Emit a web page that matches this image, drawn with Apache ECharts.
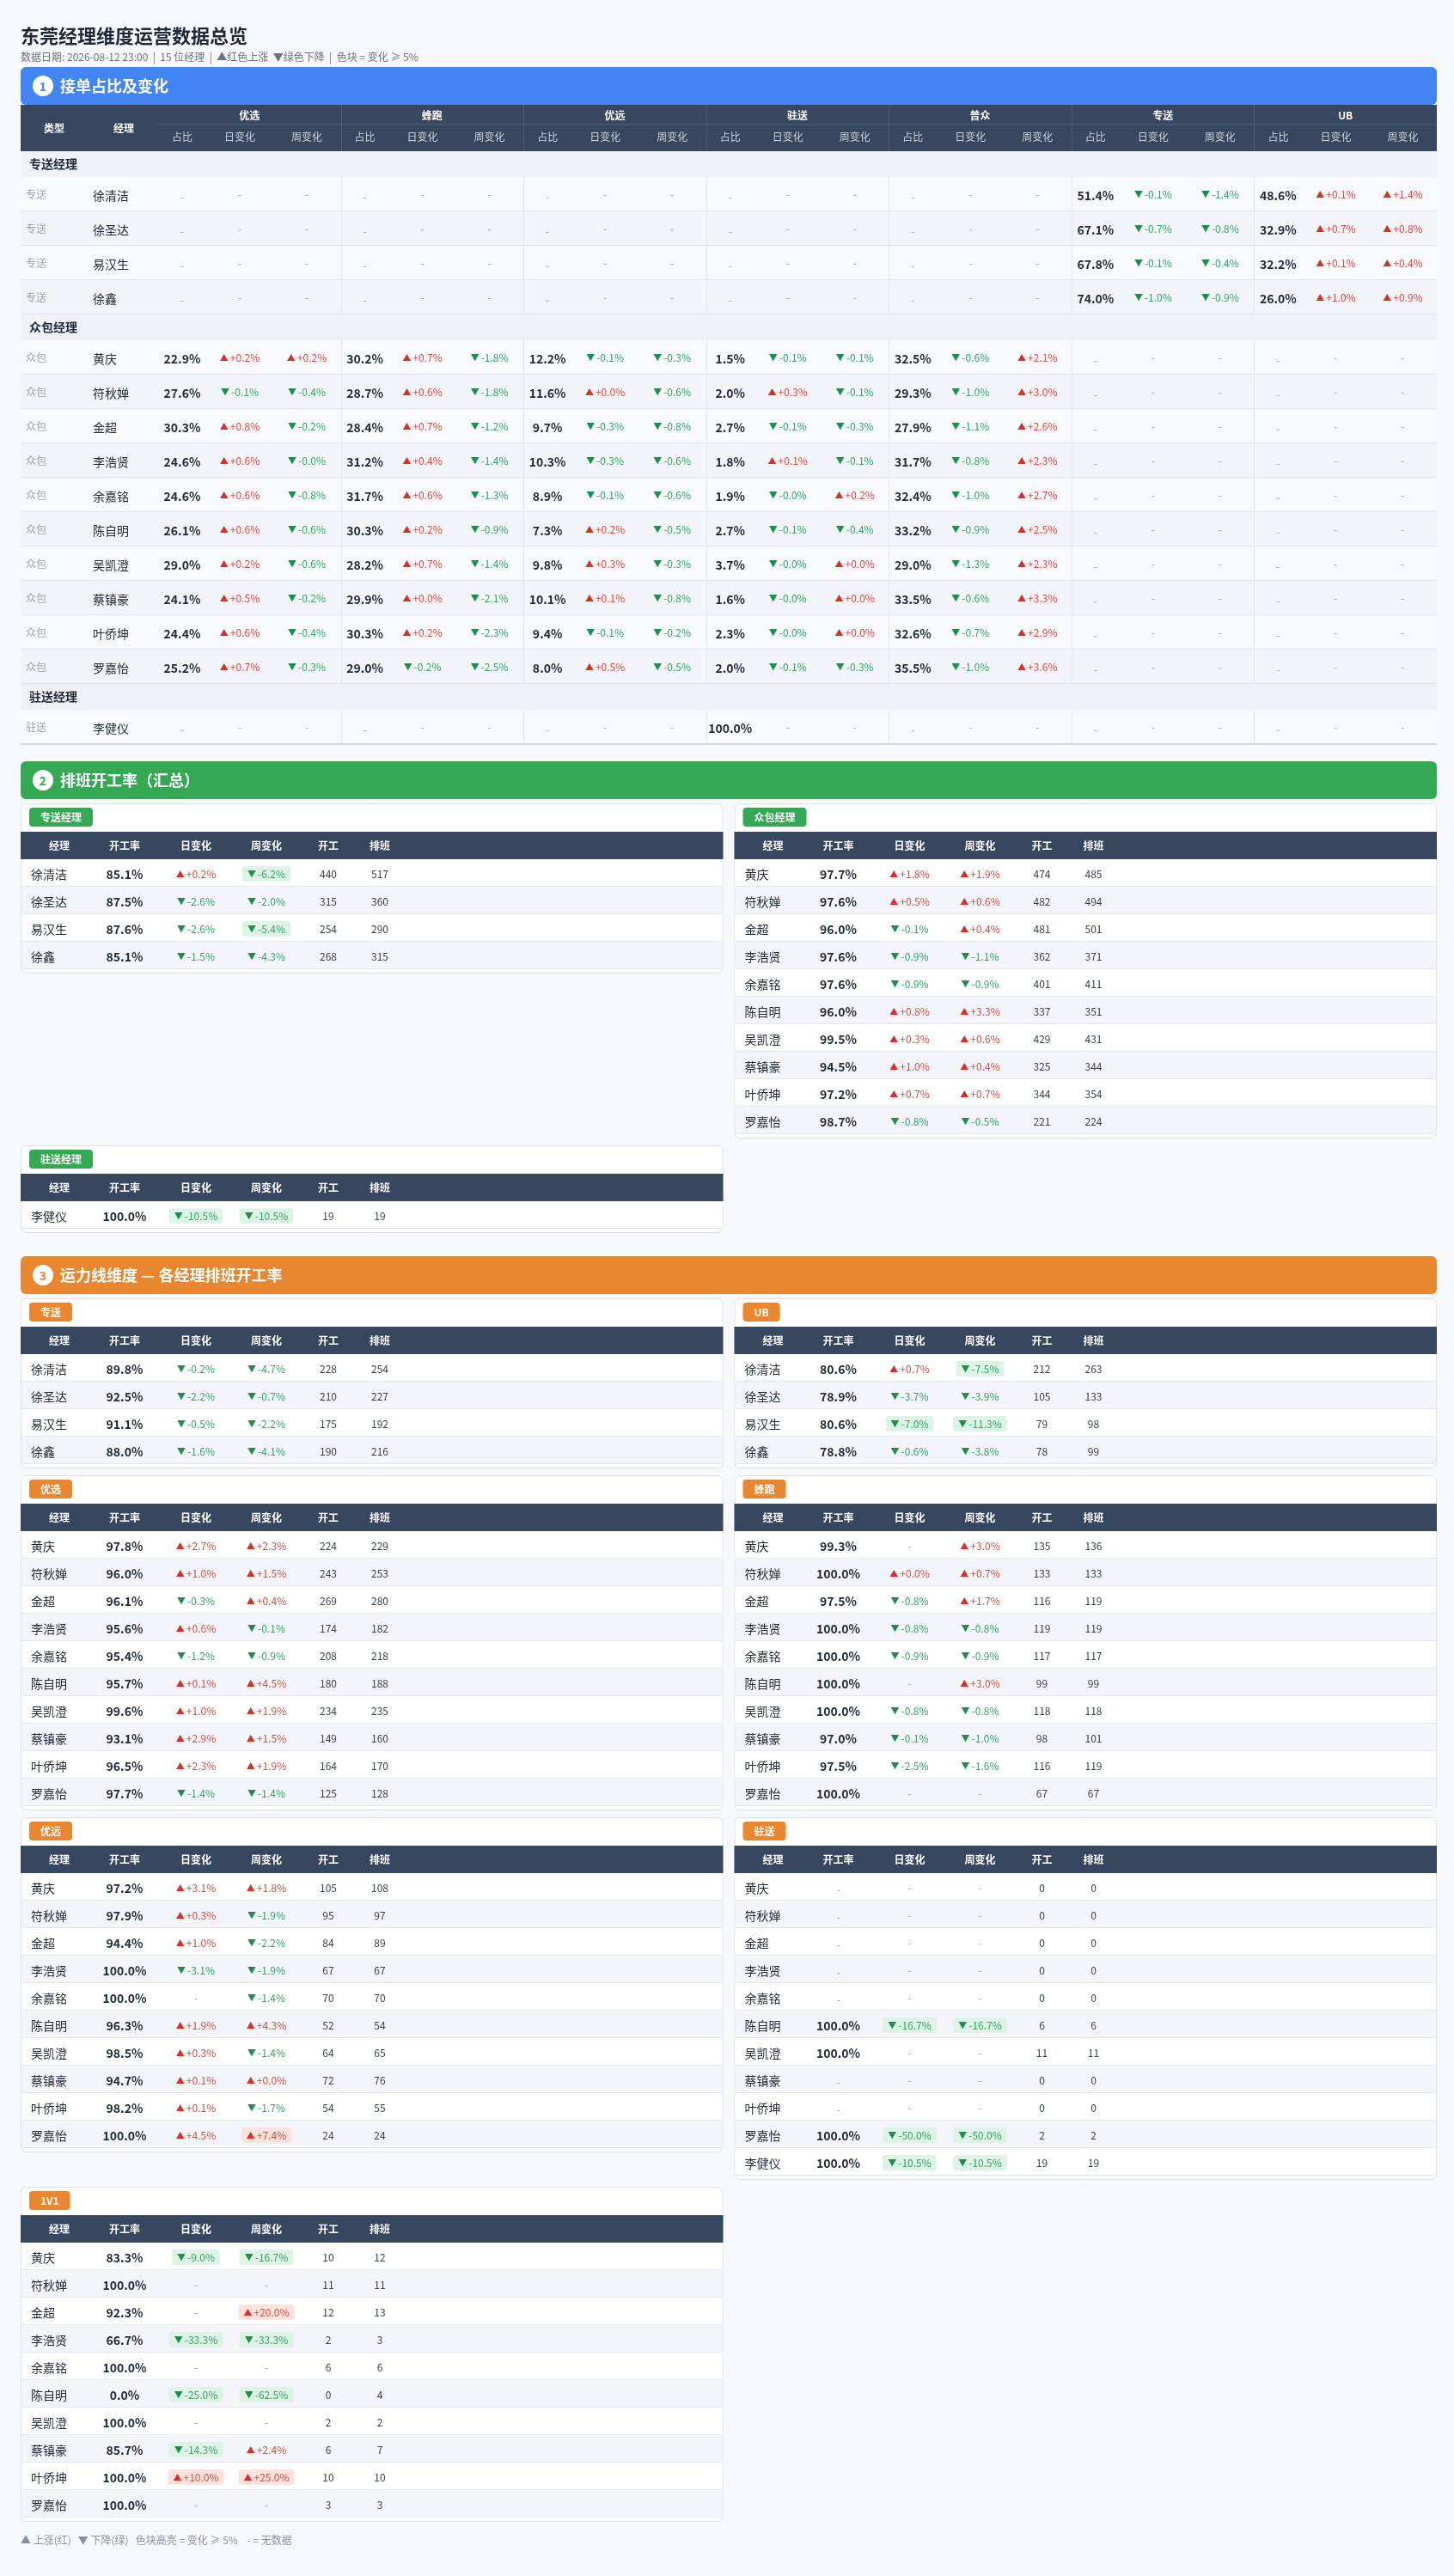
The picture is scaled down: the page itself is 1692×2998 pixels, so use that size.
<!DOCTYPE html>
<html><head><meta charset="utf-8">
<script src="https://cdn.jsdelivr.net/npm/echarts@6/dist/echarts.min.js"></script>
<style>html,body{margin:0;padding:0;background:#f7f8fc;}#c{width:1692px;height:2998px;}</style>
</head><body><div id="c"></div>
<script>
// ---------------- DATA ----------------
const TITLE = '东莞经理维度运营数据总览';
const SUBTITLE = '数据日期: 2026-08-12 23:00  |  15 位经理  |  ▲红色上涨  ▼绿色下降  |  色块 = 变化 ≥ 5%';
const FOOTER = '▲ 上涨(红)   ▼ 下降(绿)   色块高亮 = 变化 ≥ 5%    - = 无数据';
const SEC_TITLES = ['接单占比及变化', '排班开工率（汇总）', '运力线维度 — 各经理排班开工率'];
const GROUPS = ['优选', '蜂跑', '优远', '驻送', '普众', '专送', 'UB'];
const SUBS = ['占比', '日变化', '周变化'];
const HEAD = ['经理', '开工率', '日变化', '周变化', '开工', '排班'];

const ZS_NAMES = ['徐清洁', '徐圣达', '易汉生', '徐鑫'];
const ZB_NAMES = ['黄庆', '符秋婵', '金超', '李浩贤', '余嘉铭', '陈自明', '吴凯澄', '蔡镇豪', '叶侨坤', '罗嘉怡'];
const ZHU_NAMES = ['李健仪'];

// Section 1: [占比, 日变化, 周变化]
const S1_ZS_ZHUANSONG = [[51.4,-0.1,-1.4],[67.1,-0.7,-0.8],[67.8,-0.1,-0.4],[74.0,-1.0,-0.9]];
const S1_ZS_UB = [[48.6,0.1,1.4],[32.9,0.7,0.8],[32.2,0.1,0.4],[26.0,1.0,0.9]];
const S1_ZB_YOUXUAN = [[22.9,0.2,0.2],[27.6,-0.1,-0.4],[30.3,0.8,-0.2],[24.6,0.6,-0.0],[24.6,0.6,-0.8],[26.1,0.6,-0.6],[29.0,0.2,-0.6],[24.1,0.5,-0.2],[24.4,0.6,-0.4],[25.2,0.7,-0.3]];
const S1_ZB_FENGPAO = [[30.2,0.7,-1.8],[28.7,0.6,-1.8],[28.4,0.7,-1.2],[31.2,0.4,-1.4],[31.7,0.6,-1.3],[30.3,0.2,-0.9],[28.2,0.7,-1.4],[29.9,0.0,-2.1],[30.3,0.2,-2.3],[29.0,-0.2,-2.5]];
const S1_ZB_YOUYUAN = [[12.2,-0.1,-0.3],[11.6,0.0,-0.6],[9.7,-0.3,-0.8],[10.3,-0.3,-0.6],[8.9,-0.1,-0.6],[7.3,0.2,-0.5],[9.8,0.3,-0.3],[10.1,0.1,-0.8],[9.4,-0.1,-0.2],[8.0,0.5,-0.5]];
const S1_ZB_ZHUSONG = [[1.5,-0.1,-0.1],[2.0,0.3,-0.1],[2.7,-0.1,-0.3],[1.8,0.1,-0.1],[1.9,-0.0,0.2],[2.7,-0.1,-0.4],[3.7,-0.0,0.0],[1.6,-0.0,0.0],[2.3,-0.0,0.0],[2.0,-0.1,-0.3]];
const S1_ZB_PUZHONG = [[32.5,-0.6,2.1],[29.3,-1.0,3.0],[27.9,-1.1,2.6],[31.7,-0.8,2.3],[32.4,-1.0,2.7],[33.2,-0.9,2.5],[29.0,-1.3,2.3],[33.5,-0.6,3.3],[32.6,-0.7,2.9],[35.5,-1.0,3.6]];
const S1_ZHU_ZHUSONG = [[100.0,null,null]];

// Section 2 / 3: [开工率, 日变化, 周变化, 开工, 排班]
const S2_ZS = [[85.1,0.2,-6.2,440,517],[87.5,-2.6,-2.0,315,360],[87.6,-2.6,-5.4,254,290],[85.1,-1.5,-4.3,268,315]];
const S2_ZB = [[97.7,1.8,1.9,474,485],[97.6,0.5,0.6,482,494],[96.0,-0.1,0.4,481,501],[97.6,-0.9,-1.1,362,371],[97.6,-0.9,-0.9,401,411],[96.0,0.8,3.3,337,351],[99.5,0.3,0.6,429,431],[94.5,1.0,0.4,325,344],[97.2,0.7,0.7,344,354],[98.7,-0.8,-0.5,221,224]];
const S2_ZHU = [[100.0,-10.5,-10.5,19,19]];

const S3_ZHUANSONG = [[89.8,-0.2,-4.7,228,254],[92.5,-2.2,-0.7,210,227],[91.1,-0.5,-2.2,175,192],[88.0,-1.6,-4.1,190,216]];
const S3_UB = [[80.6,0.7,-7.5,212,263],[78.9,-3.7,-3.9,105,133],[80.6,-7.0,-11.3,79,98],[78.8,-0.6,-3.8,78,99]];
const S3_YOUXUAN = [[97.8,2.7,2.3,224,229],[96.0,1.0,1.5,243,253],[96.1,-0.3,0.4,269,280],[95.6,0.6,-0.1,174,182],[95.4,-1.2,-0.9,208,218],[95.7,0.1,4.5,180,188],[99.6,1.0,1.9,234,235],[93.1,2.9,1.5,149,160],[96.5,2.3,1.9,164,170],[97.7,-1.4,-1.4,125,128]];
const S3_FENGPAO = [[99.3,null,3.0,135,136],[100.0,0.0,0.7,133,133],[97.5,-0.8,1.7,116,119],[100.0,-0.8,-0.8,119,119],[100.0,-0.9,-0.9,117,117],[100.0,null,3.0,99,99],[100.0,-0.8,-0.8,118,118],[97.0,-0.1,-1.0,98,101],[97.5,-2.5,-1.6,116,119],[100.0,null,null,67,67]];
const S3_YOUYUAN = [[97.2,3.1,1.8,105,108],[97.9,0.3,-1.9,95,97],[94.4,1.0,-2.2,84,89],[100.0,-3.1,-1.9,67,67],[100.0,null,-1.4,70,70],[96.3,1.9,4.3,52,54],[98.5,0.3,-1.4,64,65],[94.7,0.1,0.0,72,76],[98.2,0.1,-1.7,54,55],[100.0,4.5,7.4,24,24]];
const S3_ZHUSONG = [[null,null,null,0,0],[null,null,null,0,0],[null,null,null,0,0],[null,null,null,0,0],[null,null,null,0,0],[100.0,-16.7,-16.7,6,6],[100.0,null,null,11,11],[null,null,null,0,0],[null,null,null,0,0],[100.0,-50.0,-50.0,2,2],[100.0,-10.5,-10.5,19,19]];
const S3_1V1 = [[83.3,-9.0,-16.7,10,12],[100.0,null,null,11,11],[92.3,null,20.0,12,13],[66.7,-33.3,-33.3,2,3],[100.0,null,null,6,6],[0.0,-25.0,-62.5,0,4],[100.0,null,null,2,2],[85.7,-14.3,2.4,6,7],[100.0,10.0,25.0,10,10],[100.0,null,null,3,3]];

// ---------------- STYLE ----------------
const FF = '"Noto Sans CJK SC","Noto Sans",sans-serif';
const C = {bg:'#f7f8fc', head:'#37475f', headLine:'#4c5c76', text:'#1f2937', sub:'#6b7280', muted:'#9ca3af',
  up:'#e5483f', upTri:'#d93025', down:'#2fa866', downTri:'#1e8e4e', upChip:'#fde1de', downChip:'#dcf3e6',
  line:'#e3e6ee', rowAlt:'#f3f5fa', blue:'#4285f4', green:'#34a853', orange:'#e8872f', num:'#374151'};

const els = [];
function R(x,y,w,h,fill,r,stroke){ els.push({type:'rect',silent:true,z:1,shape:{x:x,y:y,width:w,height:h,r:r||0},style:{fill:fill,stroke:stroke||null,lineWidth:stroke?1:0}}); }
function L(x1,y1,x2,y2,stroke,lw){ els.push({type:'line',silent:true,z:2,shape:{x1:x1,y1:y1,x2:x2,y2:y2},style:{stroke:stroke,lineWidth:lw||1}}); }
function T(x,y,str,size,color,o){ o=o||{}; const a=o.align||'center';
  els.push({type:'text',silent:true,z:4,x:x,y:y,style:{text:str,fill:color,fontSize:size,fontWeight:o.bold?'bold':'normal',fontFamily:FF,align:a,verticalAlign:'middle',textAlign:a,textVerticalAlign:'middle'}}); }
function pct(v){ return v.toFixed(1)+'%'; }
function CH(x,y,v){
  if (v===null||v===undefined){ T(x,y,'-',12,C.muted); return; }
  const up = v>0 || Object.is(v,0);
  const s = (up?'+':'-')+Math.abs(v).toFixed(1)+'%';
  const st = {text:'{t|'+(up?'▲':'▼')+'}{v|'+s+'}',align:'center',verticalAlign:'middle',textAlign:'center',textVerticalAlign:'middle',
    rich:{t:{fontSize:10,fontFamily:FF,fill:up?C.upTri:C.downTri,color:up?C.upTri:C.downTri,padding:[0,2,0,0]},
          v:{fontSize:12,fontFamily:FF,fill:up?C.up:C.down,color:up?C.up:C.down}}};
  if (Math.abs(v)>=5){ st.backgroundColor=up?C.upChip:C.downChip; st.padding=[3,6,3,6]; st.borderRadius=3; }
  els.push({type:'text',silent:true,z:4,x:x,y:y,style:st});
}
function bar(y,n,title,col){
  R(24,y,1648,44,col,6);
  els.push({type:'circle',silent:true,z:3,shape:{cx:50,cy:y+22,r:12},style:{fill:'#fff'}});
  T(50,y+23,String(n),14,col,{bold:true});
  T(70,y+22,title,18,'#fff',{bold:true,align:'left'});
}

// ---------------- HEADER ----------------
T(24,42,TITLE,22,C.text,{bold:true,align:'left'});
T(24,66,SUBTITLE,12,C.sub,{align:'left'});

// ---------------- SECTION 1 ----------------
const X0=24, X1=1672, W=X1-X0, GX0=184, GW=(X1-GX0)/GROUPS.length;
const SUBX=[28,95,173];
let y=78;
bar(y,1,SEC_TITLES[0],C.blue);
y+=44;
R(X0,y,W,54,C.head);
T(63,y+27,'类型',12,'#fff',{bold:true});
T(144,y+27,'经理',12,'#fff',{bold:true});
L(GX0,y+22.5,X1,y+22.5,C.headLine);
GROUPS.forEach(function(g,i){ const gx=GX0+i*GW;
  T(gx+GW/2,y+12,g,12,'#fff',{bold:true});
  SUBS.forEach(function(s,j){ T(gx+SUBX[j],y+37,s,12,'#c9d1dd'); });
  if(i>0) L(Math.round(gx)+0.5,y,Math.round(gx)+0.5,y+54,C.headLine);
});
y+=54;
const S1_BLOCKS = [
  {label:'专送经理', type:'专送', names:ZS_NAMES, cells:{'专送':S1_ZS_ZHUANSONG,'UB':S1_ZS_UB}},
  {label:'众包经理', type:'众包', names:ZB_NAMES, cells:{'优选':S1_ZB_YOUXUAN,'蜂跑':S1_ZB_FENGPAO,'优远':S1_ZB_YOUYUAN,'驻送':S1_ZB_ZHUSONG,'普众':S1_ZB_PUZHONG}},
  {label:'驻送经理', type:'驻送', names:ZHU_NAMES, cells:{'驻送':S1_ZHU_ZHUSONG}}
];
S1_BLOCKS.forEach(function(b){
  R(X0,y,W,30,'#eff1f6');
  T(34,y+15,b.label,14,C.text,{bold:true,align:'left'});
  y+=30;
  b.names.forEach(function(nm,i){
    R(X0,y,W,40,i%2?'#f3f4f8':'#f8f9fc');
    L(X0,y+39.5,X1,y+39.5,'#e2e5ec');
    const cy=y+22;
    T(30,cy-2,b.type,12,C.muted,{align:'left'});
    T(108,cy,nm,14,C.text,{align:'left'});
    GROUPS.forEach(function(g,k){ const gx=GX0+k*GW;
      if(k>0) L(Math.round(gx)+0.5,y,Math.round(gx)+0.5,y+40,'#e4e7ee');
      const arr=b.cells[g]; const c=arr?arr[i]:null;
      if(c){ T(gx+SUBX[0],cy,pct(c[0]),14,C.text,{bold:true}); CH(gx+SUBX[1],cy-2,c[1]); CH(gx+SUBX[2],cy-2,c[2]); }
      else { T(gx+SUBX[0],cy+1,'-',12,C.muted); T(gx+SUBX[1],cy-2,'-',12,C.muted); T(gx+SUBX[2],cy-2,'-',12,C.muted); }
    });
    y+=40;
  });
});
L(X0,y,X1,y,'#d5d9e2',2);
const S1_END=y;

// ---------------- CARDS ----------------
const COLX=[45,121,204,286,358,418];
function card(x,top,w,badge,col,names,rows){
  const h=65+rows.length*32+5;
  R(x+0.5,top+0.5,w-1,h-1,'#fff',6,'#dde2ea');
  els.push({type:'text',silent:true,z:4,x:x+10,y:top+5,style:{text:badge,fill:'#fff',fontSize:12,fontWeight:'bold',fontFamily:FF,
    backgroundColor:col,padding:[5,13,5,13],borderRadius:4,align:'left',verticalAlign:'top',textAlign:'left',textVerticalAlign:'top'}});
  R(x,top+33,w,32,C.head);
  HEAD.forEach(function(hd,i){ T(x+COLX[i],top+49,hd,12,'#fff',{bold:true}); });
  rows.forEach(function(r,i){
    const ry=top+65+i*32;
    R(x+1,ry,w-2,32,i%2?C.rowAlt:'#fff');
    L(x+1,ry+31.5,x+w-1,ry+31.5,C.line);
    const cy=ry+18;
    T(x+12,cy,names[i],14,C.text,{align:'left'});
    if(r[0]===null) T(x+COLX[1],cy+1,'-',12,C.muted); else T(x+COLX[1],cy,pct(r[0]),14,C.text,{bold:true});
    CH(x+COLX[2],cy-1,r[1]); CH(x+COLX[3],cy-1,r[2]);
    T(x+COLX[4],cy-1,String(r[3]),12,C.num); T(x+COLX[5],cy-1,String(r[4]),12,C.num);
  });
  return h;
}
const LW=(W-13)/2, LX=X0, RX=X0+LW+13;
function grid(top,rowsOfCards,col){
  let t=top;
  rowsOfCards.forEach(function(rc){
    let mh=0;
    rc.forEach(function(cd,i){ const h=card(i===0?LX:RX,t,LW,cd[0],col,cd[1],cd[2]); if(h>mh) mh=h; });
    t+=mh+8;
  });
  return t-8;
}

// ---------------- SECTION 2 ----------------
y=S1_END+20;
bar(y,2,SEC_TITLES[1],C.green);
const S2_END=grid(y+49,[
  [['专送经理',ZS_NAMES,S2_ZS],['众包经理',ZB_NAMES,S2_ZB]],
  [['驻送经理',ZHU_NAMES,S2_ZHU]]
],C.green);

// ---------------- SECTION 3 ----------------
y=S2_END+27;
bar(y,3,SEC_TITLES[2],C.orange);
const S3_END=grid(y+49,[
  [['专送',ZS_NAMES,S3_ZHUANSONG],['UB',ZS_NAMES,S3_UB]],
  [['优选',ZB_NAMES,S3_YOUXUAN],['蜂跑',ZB_NAMES,S3_FENGPAO]],
  [['优远',ZB_NAMES,S3_YOUYUAN],['驻送',ZB_NAMES.concat(ZHU_NAMES),S3_ZHUSONG]],
  [['1V1',ZB_NAMES,S3_1V1]]
],C.orange);

T(24,S3_END+21,FOOTER,12,'#8a919e',{align:'left'});

const chart=echarts.init(document.getElementById('c'),null,{renderer:'canvas',width:1692,height:2998});
chart.setOption({backgroundColor:C.bg,animation:false,graphic:{elements:els}});
</script></body></html>
